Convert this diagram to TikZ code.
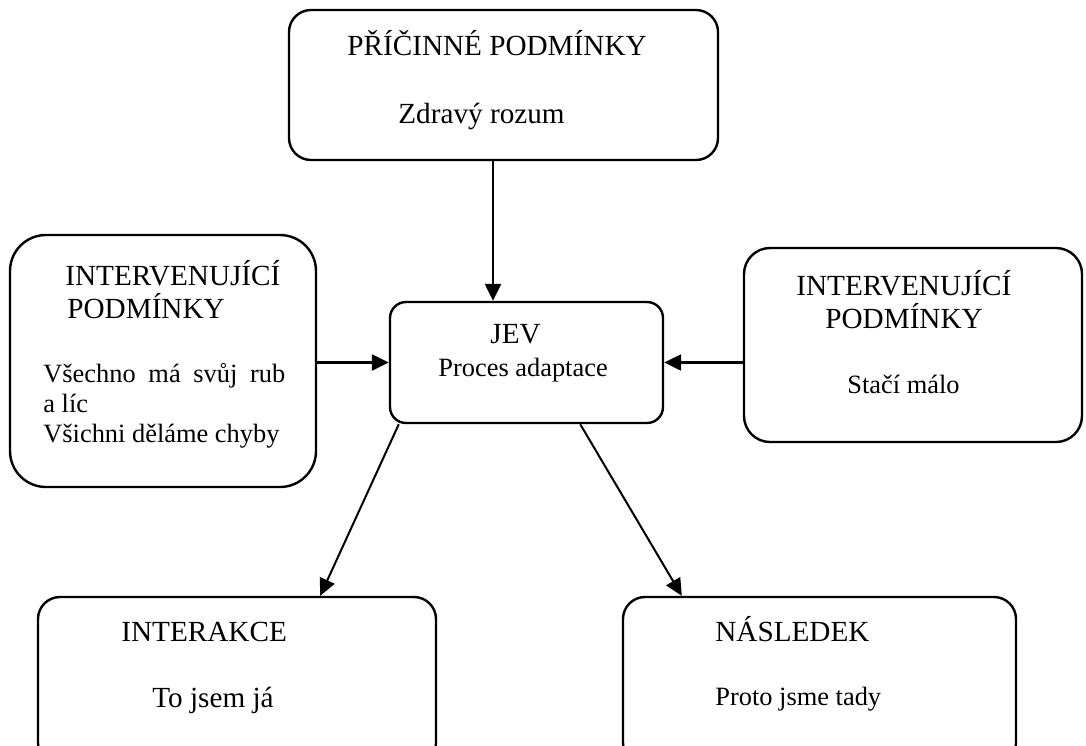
\documentclass[tikz,border=0pt]{standalone}
\usepackage{fontspec}
\setmainfont{Liberation Serif}
\usepackage{tikz}
\usetikzlibrary{arrows.meta}

\begin{document}
\begin{tikzpicture}[x=0.5pt, y=-0.5pt,
        box/.style={draw, line width=1.2pt, rounded corners=11pt, inner sep=0pt},
        txt/.style={anchor=base west, inner sep=0pt, font=\fontsize{14.6}{16}\selectfont},
        smalltxt/.style={txt, font=\fontsize{13.2}{15}\selectfont},
        arr/.style={line width=1.2pt, -{Triangle[length=8.5pt, width=8pt]}}]
        \useasboundingbox (0,0) rectangle (1086,745);
        % boxes
        \node[box, minimum width=214.5pt, minimum height=75pt] (cause) at (503.5,85) {};
        \node[box, rounded corners=18pt, minimum width=153pt, minimum height=126pt] (intervL) at (163,361) {};
        \node[box, rounded corners=8pt, minimum width=136.5pt, minimum height=60.5pt] (jev) at (526.5,362.5) {};
        \node[box, rounded corners=13pt, minimum width=169pt, minimum height=97pt] (intervR) at (913,345) {};
        \node[box, minimum width=199pt, minimum height=84pt] (inter) at (237,681) {};
        \node[box, minimum width=196.5pt, minimum height=84pt] (nasl) at (819.5,681) {};
        % texts
        \node[txt] (cause-a) at (347,55) {PŘÍČINNÉ PODMÍNKY};
        \node[txt] (cause-b) at (398,123) {Zdravý rozum};
        \node[txt] (intervL-a) at (65,285) {INTERVENUJÍCÍ};
        \node[txt] (intervL-b) at (67,318) {PODMÍNKY};
        \node[smalltxt] (intervL-c) at (43,382) {\hbox to 121pt{Všechno\hfill má\hfill svůj\hfill rub}};
        \node[smalltxt] (intervL-d) at (43,412) {a líc};
        \node[smalltxt] (intervL-e) at (43,442) {Všichni děláme chyby};
        \node[txt] (jev-a) at (490,343) {JEV};
        \node[smalltxt] (jev-b) at (438,376) {Proces adaptace};
        \node[txt] (intervR-a) at (796,295) {INTERVENUJÍCÍ};
        \node[txt] (intervR-b) at (825,328) {PODMÍNKY};
        \node[smalltxt] (intervR-c) at (847,393) {Stačí málo};
        \node[txt] (inter-a) at (121,641) {INTERAKCE};
        \node[txt] (inter-b) at (152,707) {To jsem já};
        \node[txt] (nasl-a) at (715,641) {NÁSLEDEK};
        \node[smalltxt] (nasl-b) at (715,705) {Proto jsme tady};
        % arrows
        \draw[arr] ([xshift=-5.25pt]cause.south) -- ([xshift=-5.25pt]cause.south |- jev.north);
        \draw[arr] (intervL.east |- jev.west) -- (jev.west);
        \draw[arr] (intervR.west |- jev.east) -- (jev.east);
        \draw[arr, line width=1pt] ([xshift=5pt]jev.south west) -- ([xshift=-58.5pt]inter.north east);
        \draw[arr, line width=1pt] ([xshift=-42pt]jev.south east) -- ([xshift=30pt]nasl.north west);
    \end{tikzpicture}
\end{document}
